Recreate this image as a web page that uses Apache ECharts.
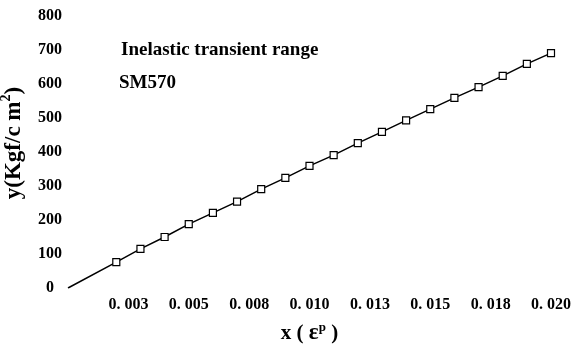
<!DOCTYPE html>
<html>
<head>
<meta charset="utf-8">
<script src="https://cdn.jsdelivr.net/npm/echarts@6/dist/echarts.min.js"></script>
<style>
  html, body { margin: 0; padding: 0; background: #fff; }
  #main { width: 576px; height: 350px; }
</style>
</head>
<body>
<div id="main"></div>
<script>
  // strain values (x) and stress values (y)
  var strain = [0, 0.002, 0.003, 0.004, 0.005, 0.006, 0.007, 0.008, 0.009, 0.010,
                0.011, 0.012, 0.013, 0.014, 0.015, 0.016, 0.017, 0.018, 0.019, 0.020];
  var stress = [0, 76, 115, 150, 188, 221, 254, 291, 324, 359,
                391, 426, 459, 493, 526, 559, 591, 624, 659, 691];
  var xTickLabels = ['0. 003', '0. 005', '0. 008', '0. 010', '0. 013', '0. 015', '0. 018', '0. 020'];

  var font = 'Liberation Serif';

  var myChart = echarts.init(document.getElementById('main'));

  var points = strain.map(function (x, i) {
    var item = { value: [x, stress[i]] };
    if (i === 0) item.symbol = 'none';
    return item;
  });

  var option = {
    animation: false,
    title: [
      {
        text: 'Inelastic transient range',
        left: 116, top: 36,
        textStyle: { fontFamily: font, fontWeight: 'bold', fontSize: 19, color: '#000' }
      },
      {
        text: 'SM570',
        left: 114, top: 69,
        textStyle: { fontFamily: font, fontWeight: 'bold', fontSize: 19, color: '#000' }
      }
    ],
    // y axis title, placed by hand so it sits close to the tick labels
    graphic: [
      {
        type: 'text',
        x: 14,
        y: 143,
        rotation: Math.PI / 2,
        style: {
          text: 'y(Kgf/c m{sup|2})',
          font: 'bold 23px "Liberation Serif"',
          fill: '#000',
          align: 'center',
          verticalAlign: 'middle',
          rich: {
            sup: { fontFamily: font, fontWeight: 'bold', fontSize: 14, fill: '#000', padding: [0, 0, 16, 0] }
          }
        }
      }
    ],
    grid: { left: 68, right: 25, top: 16, bottom: 62, outerBoundsMode: 'none', containLabel: false },
    xAxis: {
      type: 'value',
      min: 0,
      max: 0.02,
      interval: 0.0025,
      axisLine: { show: false },
      axisTick: { show: false },
      splitLine: { show: false },
      axisLabel: {
        showMinLabel: false,
        margin: 9,
        fontFamily: font, fontWeight: 'bold', fontSize: 16, color: '#000',
        formatter: function (v) {
          var idx = Math.round(v / 0.0025) - 1;
          return xTickLabels[idx] || '';
        }
      },
      name: 'x ( {e|ε}{sup|p} )',
      nameLocation: 'middle',
      nameGap: 33,
      nameTextStyle: {
        fontFamily: font, fontWeight: 'bold', fontSize: 21, color: '#000',
        rich: {
          e: { fontFamily: font, fontWeight: 'bold', fontSize: 23, color: '#000' },
          sup: { fontFamily: font, fontWeight: 'bold', fontSize: 13, color: '#000', padding: [0, 0, 12, 0] }
        }
      }
    },
    yAxis: {
      type: 'value',
      min: 0,
      max: 800,
      interval: 100,
      axisLine: { show: false },
      axisTick: { show: false },
      splitLine: { show: false },
      axisLabel: {
        margin: 18,
        align: 'center',
        fontFamily: font, fontWeight: 'bold', fontSize: 16, color: '#000'
      }
    },
    series: [
      {
        type: 'line',
        data: points,
        symbol: 'rect',
        symbolSize: 7,
        itemStyle: { color: '#fff', borderColor: '#000', borderWidth: 1.2 },
        lineStyle: { color: '#000', width: 1.5 }
      }
    ]
  };

  myChart.setOption(option);
</script>
</body>
</html>
